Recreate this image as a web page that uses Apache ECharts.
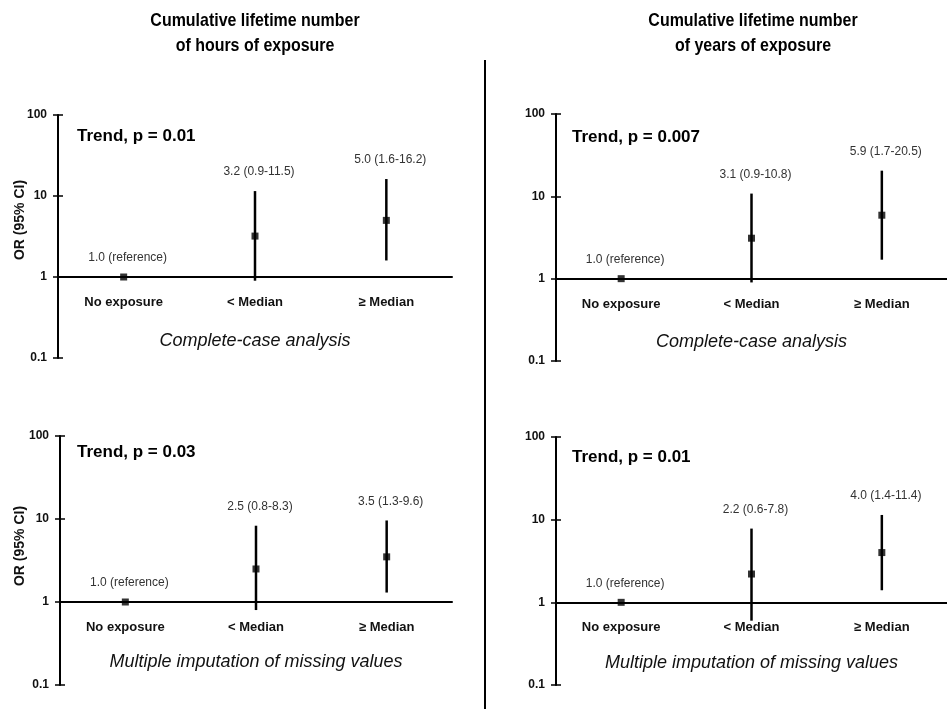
<!DOCTYPE html>
<html>
<head>
<meta charset="utf-8">
<script src="https://cdn.jsdelivr.net/npm/echarts@6/dist/echarts.min.js"></script>
<style>
html, body { margin: 0; padding: 0; background: #fff; }
#chart { width: 947px; height: 709px; }
</style>
</head>
<body>
<div id="chart"></div>
<script>
const categories = ['No exposure', '< Median', '\u2265 Median'];
const columnTitles = ['Cumulative lifetime number\nof hours of exposure', 'Cumulative lifetime number\nof years of exposure'];
const analysisNames = ['Complete-case analysis', 'Complete-case analysis', 'Multiple imputation of missing values', 'Multiple imputation of missing values'];
const trendP = ['0.01', '0.007', '0.03', '0.01'];

// OR with 95% CI, first category is the reference
const hoursCcOr = [1.0, 3.2, 5.0];
const hoursCcLow = [1.0, 0.9, 1.6];
const hoursCcHigh = [1.0, 11.5, 16.2];

const yearsCcOr = [1.0, 3.1, 5.9];
const yearsCcLow = [1.0, 0.9, 1.7];
const yearsCcHigh = [1.0, 10.8, 20.5];

const hoursMiOr = [1.0, 2.5, 3.5];
const hoursMiLow = [1.0, 0.8, 1.3];
const hoursMiHigh = [1.0, 8.3, 9.6];

const yearsMiOr = [1.0, 2.2, 4.0];
const yearsMiLow = [1.0, 0.6, 1.4];
const yearsMiHigh = [1.0, 7.8, 11.4];

const panels = [
    { or: hoursCcOr, low: hoursCcLow, high: hoursCcHigh },
    { or: yearsCcOr, low: yearsCcLow, high: yearsCcHigh },
    { or: hoursMiOr, low: hoursMiLow, high: hoursMiHigh },
    { or: yearsMiOr, low: yearsMiLow, high: yearsMiHigh }
];

const layout = [
    { left: 58, top: 115, width: 394, height: 243, nameGap: 55, trend: [77, 136], yName: [20, 220] },
    { left: 556, top: 114, width: 392, height: 247, nameGap: 54, trend: [572, 137], yName: null },
    { left: 60, top: 436, width: 392, height: 249, nameGap: 51, trend: [77, 452], yName: [20, 546] },
    { left: 556, top: 437, width: 392, height: 248, nameGap: 52, trend: [572, 457], yName: null }
];

const SANS = "'Liberation Sans', Arial, sans-serif";

function ciLabel(p, i) {
    if (i === 0) return p.or[0].toFixed(1) + ' (reference)';
    return p.or[i].toFixed(1) + ' (' + p.low[i].toFixed(1) + '-' + p.high[i].toFixed(1) + ')';
}

const grid = [], xAxis = [], yAxis = [], series = [];
const graphic = [];

panels.forEach((p, k) => {
    const L = layout[k];
    grid.push({ left: L.left, top: L.top, width: L.width, height: L.height });
    const xOffset = -L.height / 3;   // x axis sits on OR = 1
    const baseX = {
        type: 'category', gridIndex: k, data: categories, position: 'bottom', offset: xOffset,
        boundaryGap: true
    };
    xAxis.push(Object.assign({}, baseX, {
        axisLine: { lineStyle: { color: '#000', width: 2 } },
        axisTick: { length: 5, lineStyle: { color: '#000', width: 1.5 } },
        axisLabel: { color: '#111', fontSize: 13, fontWeight: 'bold', fontFamily: SANS, margin: 19 },
        name: analysisNames[k], nameLocation: 'middle', nameGap: L.nameGap,
        nameTextStyle: { color: '#111', fontSize: 18, fontStyle: 'italic', fontFamily: SANS }
    }));
    xAxis.push(Object.assign({}, baseX, {
        axisLine: { show: false },
        axisTick: { inside: true, length: 5, lineStyle: { color: '#000', width: 1.5 } },
        axisLabel: { show: false }
    }));
    const baseY = { type: 'log', logBase: 10, min: 0.1, max: 100, gridIndex: k, position: 'left', splitLine: { show: false } };
    yAxis.push(Object.assign({}, baseY, {
        axisLine: { show: true, lineStyle: { color: '#000', width: 2 } },
        axisTick: { show: true, length: 5, lineStyle: { color: '#000', width: 1.5 } },
        axisLabel: { color: '#111', fontSize: 12, fontWeight: 'bold', fontFamily: SANS, margin: 11 }
    }));
    yAxis.push(Object.assign({}, baseY, {
        axisLine: { show: false },
        axisTick: { show: true, inside: true, length: 5, lineStyle: { color: '#000', width: 1.5 } },
        axisLabel: { show: false }
    }));

    series.push({
        type: 'custom',
        xAxisIndex: k * 2, yAxisIndex: k * 2,
        data: categories.map((c, i) => [i, p.low[i], p.high[i], p.or[i]]),
        encode: { x: 0, y: [1, 2, 3] },
        renderItem: (params, api) => {
            const i = params.dataIndex;
            const lo = api.coord([i, api.value(1)]);
            const hi = api.coord([i, api.value(2)]);
            const mid = api.coord([i, api.value(3)]);
            const children = [];
            if (api.value(1) !== api.value(2)) {
                children.push({
                    type: 'line',
                    shape: { x1: lo[0], y1: lo[1], x2: hi[0], y2: hi[1] },
                    style: { stroke: '#000', lineWidth: 2.5 }
                });
            }
            const topY = Math.min(hi[1], mid[1]);
            children.push({
                type: 'text', x: mid[0] + 4, y: topY - 19,
                style: {
                    text: ciLabel(p, i), fill: '#333', fontSize: 12, fontFamily: SANS,
                    align: 'center', verticalAlign: 'middle'
                }
            });
            return { type: 'group', children: children };
        },
        z: 3
    });
    series.push({
        type: 'scatter',
        xAxisIndex: k * 2, yAxisIndex: k * 2,
        symbol: 'rect', symbolSize: 7,
        itemStyle: { color: '#000' },
        data: categories.map((c, i) => [i, p.or[i]]),
        z: 4
    });

    graphic.push({
        type: 'text', x: L.trend[0], y: L.trend[1],
        style: {
            text: 'Trend, p = ' + trendP[k], fill: '#000', fontSize: 17, fontWeight: 'bold',
            fontFamily: SANS, align: 'left', verticalAlign: 'middle'
        }
    });
    if (L.yName) {
        graphic.push({
            type: 'text', x: L.yName[0], y: L.yName[1], rotation: Math.PI / 2,
            style: {
                text: 'OR (95% CI)', fill: '#111', fontSize: 14, fontWeight: 'bold',
                fontFamily: SANS, align: 'center', verticalAlign: 'middle'
            }
        });
    }
});

// narrow bold column titles: squeeze Liberation Sans horizontally
[255, 753].forEach((cx, j) => {
    graphic.push({
        type: 'text', x: cx, y: 8, scaleX: 0.84,
        style: {
            text: columnTitles[j], fill: '#000', fontSize: 19, fontWeight: 'bold',
            fontFamily: SANS, align: 'center', verticalAlign: 'top', lineHeight: 25
        }
    });
});

graphic.push({
    type: 'line',
    shape: { x1: 485, y1: 60, x2: 485, y2: 709 },
    style: { stroke: '#000', lineWidth: 2 }
});

const chart = echarts.init(document.getElementById('chart'));
chart.setOption({
    animation: false,
    backgroundColor: '#fff',
    grid: grid,
    xAxis: xAxis,
    yAxis: yAxis,
    series: series,
    graphic: graphic
});
</script>
</body>
</html>
